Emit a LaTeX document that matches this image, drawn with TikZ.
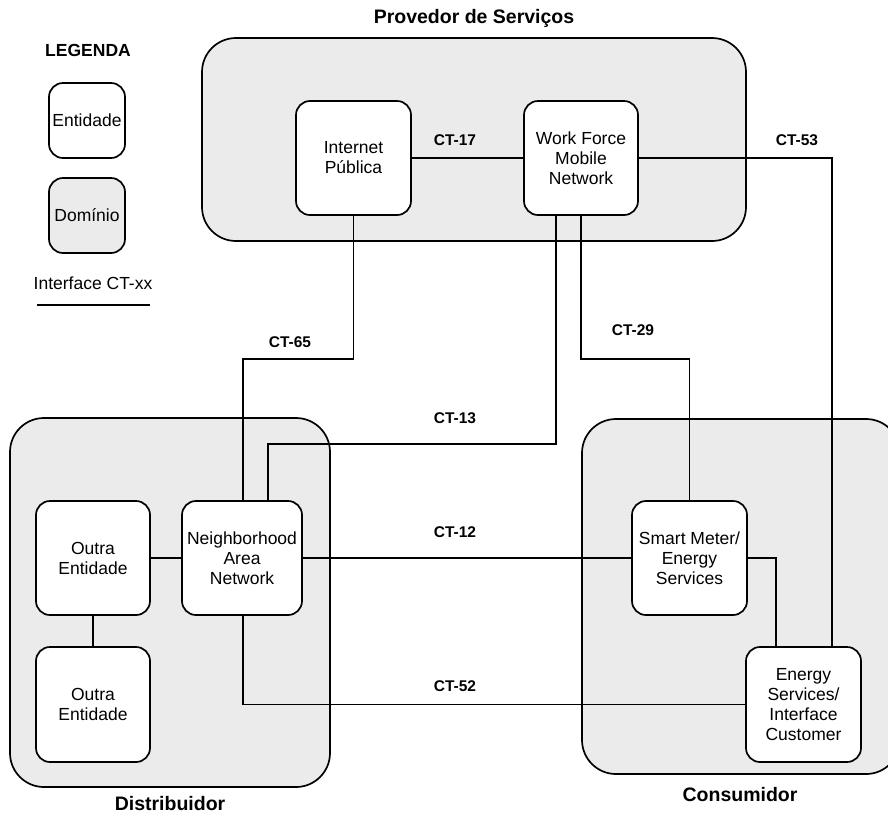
\documentclass[tikz,border=0pt]{standalone}
\usepackage{fontspec}
\setmainfont{Liberation Sans}
\usetikzlibrary{calc}
\definecolor{domfill}{HTML}{EBEBEB}
\tikzset{
  dombox/.style={draw, line width=1.7pt, fill=domfill, rounded corners=34pt, inner sep=0pt},
  entity/.style={draw, line width=1.7pt, fill=white, rounded corners=14pt, inner sep=1pt, align=center,
    font=\fontsize{17.5}{20}\selectfont},
  link/.style={line width=1.7pt},
  iflabel/.style={font=\bfseries\fontsize{15.5}{18}\selectfont},
  domtitle/.style={font=\bfseries\fontsize{19.5}{22}\selectfont},
}
\begin{document}
\begin{tikzpicture}[x=1pt, y=-1pt]
\clip (0,0) rectangle (888,815);

% legend
\node[font=\bfseries\fontsize{17.5}{20}\selectfont] (legtitle) at (88,50) {LEGENDA};
\node[entity, minimum width=76pt, minimum height=75pt] (legent) at (87,120.5) {Entidade};
\node[entity, fill=domfill, minimum width=76pt, minimum height=75pt] (legdom) at (87,215.5) {Domínio};
\node[font=\fontsize{17.5}{20}\selectfont] (legif) at (93,283) {Interface CT-xx};
\coordinate (legl) at (37,305);
\coordinate (legr) at (150,305);
\draw[link] (legl) -- (legr);

% domains
\node[dombox, minimum width=544pt, minimum height=203pt] (prov) at (474,139.5) {};
\node[dombox, minimum width=320pt, minimum height=369pt] (dist) at (170,602.5) {};
\node[dombox, minimum width=318pt, minimum height=355pt] (cons) at (741,596.5) {};
\node[domtitle] (provt) at (474,18) {Provedor de Serviços};
\node[domtitle] (distt) at (170,804) {Distribuidor};
\node[domtitle] (const) at (740,795) {Consumidor};

% entities
\node[entity, minimum width=115pt, minimum height=114pt] (ip) at (353.5,158) {Internet\\Pública};
\node[entity, minimum width=114pt, minimum height=114pt] (wf) at (581,158) {Work Force\\Mobile\\Network};
\node[entity, minimum width=120pt, minimum height=114pt] (nan) at (242,558) {Neighborhood\\Area\\Network};
\node[entity, minimum width=114pt, minimum height=114pt] (oe1) at (93,558) {Outra\\Entidade};
\node[entity, minimum width=114pt, minimum height=115pt] (oe2) at (93,704.5) {Outra\\Entidade};
\node[entity, minimum width=115pt, minimum height=114pt] (sm) at (689.5,558) {Smart Meter/\\Energy\\Services};
\node[entity, minimum width=115pt, minimum height=115pt] (es) at (803.5,704.5) {Energy\\Services/\\Interface\\Customer};

% interfaces
\draw[link] (ip.east) -- (wf.west);
\draw[link] (wf.east) -| ([xshift=28.5pt]es.north);
\draw[link] (ip.south) -- ++(0,143) -| ([xshift=1pt]nan.north);
\draw[link] ([xshift=-25pt]wf.south) -- ++(0,228) -| ([xshift=26pt]nan.north);
\draw[link] (wf.south) -- ++(0,143) -| (sm.north);
\draw[link] (nan.east) -- (sm.west);
\draw[link] ([xshift=1pt]nan.south) |- (es.west);
\draw[link] (sm.east) -| ([xshift=-27.5pt]es.north);
\draw[link] (oe1.east) -- (nan.west);
\draw[link] (oe1.south) -- (oe2.north);

% interface labels
\node[iflabel] (l17) at (455,140) {CT-17};
\node[iflabel] (l53) at (797,140) {CT-53};
\node[iflabel] (l65) at (290,342) {CT-65};
\node[iflabel] (l13) at (455,418) {CT-13};
\node[iflabel] (l29) at (633,330) {CT-29};
\node[iflabel] (l12) at (455,532) {CT-12};
\node[iflabel] (l52) at (455,686) {CT-52};
\end{tikzpicture}
\end{document}
